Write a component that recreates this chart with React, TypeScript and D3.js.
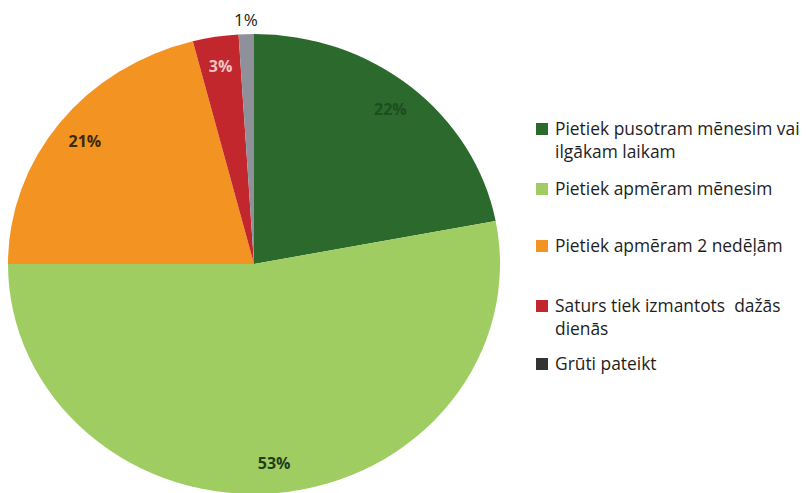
import React from "react";
import * as d3 from "d3";

const categories = [
  "Pietiek pusotram mēnesim vai ilgākam laikam",
  "Pietiek apmēram mēnesim",
  "Pietiek apmēram 2 nedēļām",
  "Saturs tiek izmantots  dažās dienās",
  "Grūti pateikt",
];
const values = [22, 53, 21, 3, 1];
const sliceColors = ["#2b6a2c", "#9fcd62", "#f29322", "#c1272d", "#8e909a"];
const legendColors = ["#2b6a2c", "#9fcd62", "#f29322", "#c1272d", "#333333"];
const labelColors = ["#1e4d1f", "#1f3f1c", "#3d2a08", "#f3c4c4", "#222222"];
const legendLines = [
  ["Pietiek pusotram mēnesim vai", "ilgākam laikam"],
  ["Pietiek apmēram mēnesim"],
  ["Pietiek apmēram 2 nedēļām"],
  ["Saturs tiek izmantots  dažās", "dienās"],
  ["Grūti pateikt"],
];
const legendBaselines = [135, 195, 252, 312, 370];

const W = 806;
const H = 493;
const cx = 254;
const cy = 264;
const rx = 246;
const ry = 230;

export default function App() {
  const pie = d3.pie<number>().sort(null).value((d) => d)(values);
  const arc = d3.arc<d3.PieArcDatum<number>>().innerRadius(0).outerRadius(rx);
  const labelArc = d3
    .arc<d3.PieArcDatum<number>>()
    .innerRadius(rx * 0.87)
    .outerRadius(rx * 0.87);
  const outerLabelArc = d3
    .arc<d3.PieArcDatum<number>>()
    .innerRadius(rx * 1.06)
    .outerRadius(rx * 1.06);
  const sy = ry / rx;
  const font = "'Open Sans', 'DejaVu Sans', sans-serif";

  return (
    <svg
      width={W}
      height={H}
      style={{ position: "absolute", left: 0, top: 0, background: "#fff" }}
    >
      <rect width={W} height={H} fill="#fff" />
      <g transform={`translate(${cx},${cy}) scale(1,${sy})`}>
        {pie.map((p, i) => (
          <path key={i} d={arc(p) || ""} fill={sliceColors[i]} />
        ))}
      </g>
      {pie.map((p, i) => {
        const outside = values[i] < 2;
        const [lx, ly] = (outside ? outerLabelArc : labelArc).centroid(p);
        return (
          <text
            key={i}
            x={cx + lx}
            y={cy + ly * sy}
            dy="0.35em"
            textAnchor="middle"
            fontFamily={font}
            fontSize={outside ? 17 : 16}
            fontWeight={outside ? 400 : 700}
            fill={labelColors[i]}
          >
            {`${values[i]}%`}
          </text>
        );
      })}
      {categories.map((c, i) => (
        <g key={c}>
          <rect
            x={536}
            y={legendBaselines[i] - 12}
            width={12}
            height={12}
            fill={legendColors[i]}
          />
          {legendLines[i].map((ln, j) => (
            <text
              key={j}
              x={555}
              y={legendBaselines[i] + j * 23}
              fontFamily={font}
              fontSize={17.4}
              fill="#1e1e1e"
              style={{ whiteSpace: "pre" }}
            >
              {ln}
            </text>
          ))}
        </g>
      ))}
    </svg>
  );
}
